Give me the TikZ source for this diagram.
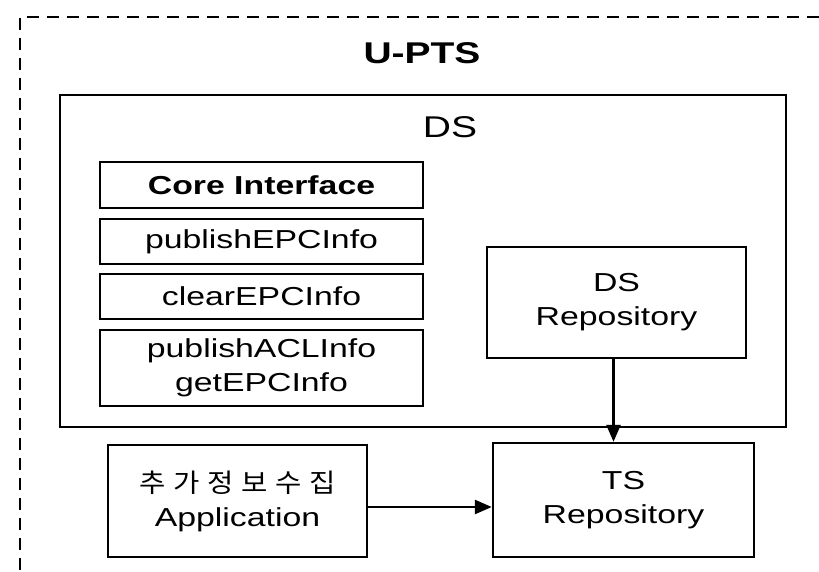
\documentclass[tikz,border=0pt]{standalone}
\usepackage{fontspec}
\setmainfont{Liberation Sans}[FakeStretch=1.3]
\newfontfamily\krfont{Noto Sans CJK KR}[FakeStretch=1.1,LetterSpace=30]
\usetikzlibrary{arrows.meta}
\tikzset{
  box/.style={draw=black, line width=2.4pt, rectangle, inner sep=0pt, align=center,
    font=\fontsize{26}{34}\selectfont},
  frameline/.style={draw=black, line width=2.2pt, dash pattern=on 12pt off 8pt},
  flow/.style={draw=black, line width=2.6pt, -{Triangle[length=17pt,width=14pt]}},
  title/.style={inner sep=0pt, font=\fontsize{30}{36}\selectfont}
}
\begin{document}
\begin{tikzpicture}[x=1pt, y=-1pt]
  \useasboundingbox (0,0) rectangle (819,572);
  \fill[white] (0,0) rectangle (819,572);

  % open dashed frame of the U-PTS system
  \coordinate (frameTR) at (819,17);
  \coordinate (frameTL) at (20,17);
  \coordinate (frameBL) at (20,572);
  \draw[frameline] (frameTR) -- (frameTL) -- (frameBL);
  \node[title, font=\fontsize{30}{36}\selectfont\bfseries] (upts) at (422,53) {U-PTS};

  % discovery service
  \node[box, minimum width=726pt, minimum height=332pt] (ds) at (423,261) {};
  \node[title] (dslabel) at (450,127) {DS};

  % core interface operations
  \node[box, minimum width=323pt, minimum height=46pt, font=\fontsize{26}{34}\selectfont\bfseries] (core) at (261.5,185) {Core Interface};
  \node[box, minimum width=323pt, minimum height=45pt] (pub) at (261.5,241.5) {publishEPCInfo};
  \node[box, minimum width=323pt, minimum height=45pt] (clear) at (261.5,296.5) {clearEPCInfo};
  \node[box, minimum width=323pt, minimum height=76pt] (acl) at (261.5,368) {publishACLInfo\\getEPCInfo};

  % repositories and application
  \node[box, minimum width=259pt, minimum height=111pt] (dsrepo) at (616.5,302.5) {DS\\Repository};
  \node[box, minimum width=261pt, minimum height=114pt] (tsrepo) at (623.5,500) {TS\\Repository};
  \node[box, minimum width=259pt, minimum height=112pt] (app) at (237.5,501) {{\krfont\fontsize{26}{30}\selectfont 추가정보수집}\\Application};

  % data flows
  \draw[flow] ([xshift=-3pt]dsrepo.south) -- ([xshift=-3pt]dsrepo.south |- tsrepo.north);
  \draw[flow] ([yshift=-6pt]app.east) -- ([yshift=-6pt]app.east -| tsrepo.west);
\end{tikzpicture}
\end{document}
